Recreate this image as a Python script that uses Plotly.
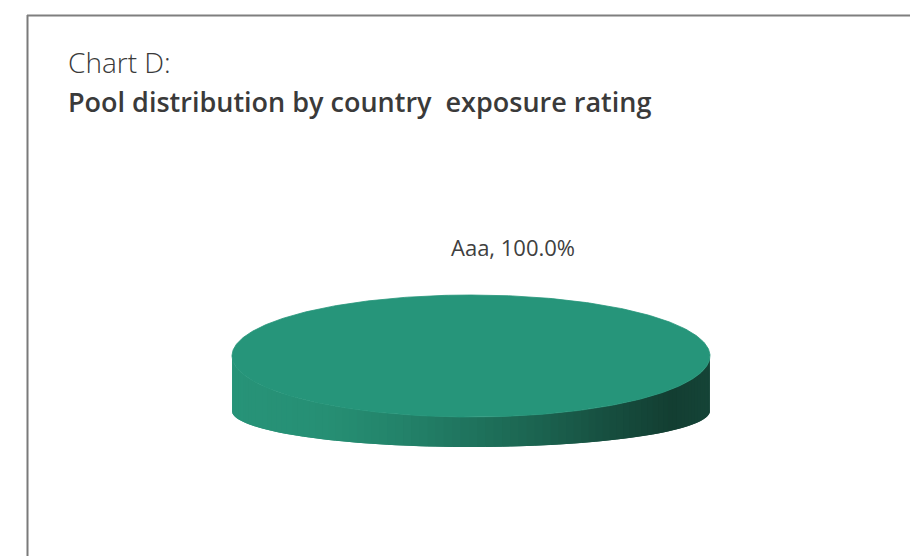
import numpy as np
import plotly.graph_objects as go

# data
labels = ["Aaa"]
values = [100.0]
slice_colors = ["#26957a"]

title_line1 = "Chart D:"
title_line2 = "Pool distribution by country  exposure rating"

# pie geometry (pixel space, y grows downward)
CX, CY = 471, 356
RX, RY = 239, 61
BOT_CY, BOT_RY = 411, 36

# side shading stops: (position across width, rgb)
SHADE = [
    (0.00, (39, 147, 120)),
    (0.20, (38, 143, 116)),
    (0.35, (35, 131, 106)),
    (0.50, (31, 115, 93)),
    (0.65, (27, 98, 79)),
    (0.80, (22, 77, 62)),
    (0.92, (19, 62, 50)),
    (1.00, (21, 68, 55)),
]


def shade(u):
    pos = [s[0] for s in SHADE]
    rgb = [np.interp(u, pos, [s[1][k] for s in SHADE]) for k in range(3)]
    return "rgb(%d,%d,%d)" % tuple(int(round(c)) for c in rgb)


fig = go.Figure()

total = sum(values)
start = -np.pi / 2  # first slice starts at 12 o'clock
angles = []
for v in values:
    span = 2 * np.pi * v / total
    angles.append((start, start + span))
    start += span

# side walls: only the front half (sin t > 0) is visible
for (a0, a1), col in zip(angles, slice_colors):
    ts = np.linspace(a0, a1, 721)
    front = ts[np.sin(ts) > 0]
    if len(front) < 2:
        continue
    step = 4
    for i in range(0, len(front) - 1, step):
        # each strip overlaps the next one to hide anti-aliased seams
        seg = front[i:i + 2 * step + 1]
        xt = CX + RX * np.cos(seg)
        yt = CY + RY * np.sin(seg)
        yb = BOT_CY + BOT_RY * np.sin(seg)
        xs = np.concatenate([xt, xt[::-1], xt[:1]])
        ys = np.concatenate([yt, yb[::-1], yt[:1]])
        u = (xt[: step + 1].mean() - (CX - RX)) / (2 * RX)
        c = shade(u)
        fig.add_trace(go.Scatter(
            x=xs, y=ys, mode="lines", fill="toself",
            fillcolor=c, line=dict(width=0),
            hoverinfo="skip", showlegend=False
        ))

# top faces
for (a0, a1), col, lab, v in zip(angles, slice_colors, labels, values):
    ts = np.linspace(a0, a1, 400)
    xs = CX + RX * np.cos(ts)
    ys = CY + RY * np.sin(ts)
    if a1 - a0 < 2 * np.pi - 1e-9:
        xs = np.concatenate([[CX], xs, [CX]])
        ys = np.concatenate([[CY], ys, [CY]])
    fig.add_trace(go.Scatter(
        x=xs, y=ys, mode="lines", fill="toself",
        fillcolor=col, line=dict(width=0.8, color=col),
        name=lab, hovertemplate=f"{lab}: {v:.1f}%<extra></extra>",
        showlegend=False
    ))

# data label
for lab, v in zip(labels, values):
    fig.add_annotation(
        x=513, y=247, xref="x", yref="y",
        text=f"{lab}, {v:.1f}%", showarrow=False,
        font=dict(family="Open Sans", size=22, color="#404040")
    )

# title
fig.add_annotation(
    x=66, y=62, xref="x", yref="y", xanchor="left", yanchor="middle",
    text=title_line1, showarrow=False,
    font=dict(family="Open Sans", size=28, color="#3a3a3a", weight=300)
)
fig.add_annotation(
    x=66, y=101, xref="x", yref="y", xanchor="left", yanchor="middle",
    text=title_line2, showarrow=False,
    font=dict(family="Open Sans", size=27, color="#3a3a3a", weight=600)
)

# frame lines (left and top only)
fig.add_shape(type="line", xref="x", yref="y", x0=27.5, x1=27.5, y0=15, y1=570,
              line=dict(color="#7a7a7a", width=2))
fig.add_shape(type="line", xref="x", yref="y", x0=27, x1=930, y0=15.5, y1=15.5,
              line=dict(color="#7f7f7f", width=2))

# the page body adds an 8px offset, so axis ranges start at 8
fig.update_xaxes(range=[8, 926], visible=False, fixedrange=True)
fig.update_yaxes(range=[564, 8], visible=False, fixedrange=True)
fig.update_layout(
    width=918, height=556,
    margin=dict(l=0, r=0, t=0, b=0),
    paper_bgcolor="white", plot_bgcolor="white",
)

fig.write_html("out.html")
